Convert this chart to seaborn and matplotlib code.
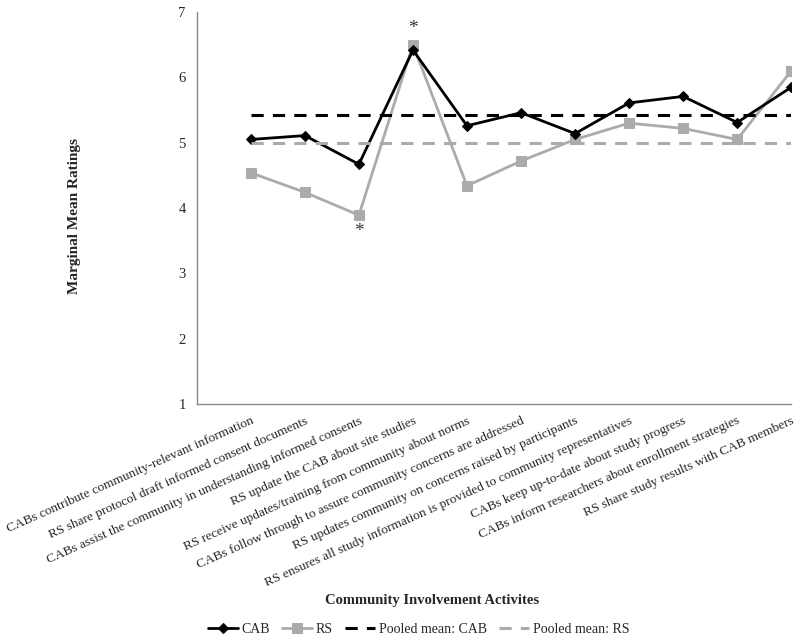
import numpy as np
import pandas as pd
import matplotlib
matplotlib.use('Agg')
import matplotlib.pyplot as plt
import seaborn as sns

# data
activities = [
    'CABs contribute community-relevant information',
    'RS share protocol draft informed consent documents',
    'CABs assist the community in understanding informed consents',
    'RS update the CAB about site studies',
    'RS receive updates/training from community about norms',
    'CABs follow through to assure community concerns are addressed',
    'RS updates community on concerns raised by participants',
    'RS ensures all study information is provided to community representatives',
    'CABs keep up-to-date about study progress',
    'CABs inform researchers about enrollment strategies',
    'RS share study results with CAB members',
]
cab = [5.05, 5.11, 4.67, 6.42, 5.26, 5.46, 5.14, 5.61, 5.71, 5.31, 5.85]
rs = [4.54, 4.24, 3.89, 6.50, 4.34, 4.72, 5.05, 5.30, 5.22, 5.05, 6.10]
pooled_cab = 5.42
pooled_rs = 4.99

sns.set_style('white')
plt.rcParams['font.family'] = ['Liberation Serif', 'DejaVu Serif']

pos = np.arange(1, len(activities) + 1)
df = pd.DataFrame({'pos': pos, 'CAB': cab, 'RS': rs,
                   'pool_cab': np.full(len(pos), pooled_cab),
                   'pool_rs': np.full(len(pos), pooled_rs)})

fig = plt.figure(figsize=(8, 6.42), dpi=100)
ax = fig.add_axes([0.246, 0.371, 0.743, 0.610])

grey = '#ABABAB'
sns.lineplot(data=df, x='pos', y='RS', ax=ax, color=grey, lw=2,
             marker='s', markersize=7, markeredgecolor=grey, label='RS')
sns.lineplot(data=df, x='pos', y='CAB', ax=ax, color='black', lw=2,
             marker='D', markersize=5, markeredgecolor='black', label='CAB')
sns.lineplot(data=df, x='pos', y='pool_cab', ax=ax, color='black', lw=2.2,
             linestyle=(0, (4, 3)), label='Pooled mean: CAB')
sns.lineplot(data=df, x='pos', y='pool_rs', ax=ax, color=grey, lw=2.2,
             linestyle=(0, (4, 3)), label='Pooled mean: RS')

# asterisks (significant differences)
ax.text(pos[3], max(cab[3], rs[3]) + 0.25, '*', ha='center', va='center',
        fontsize=14, color='#333333')
ax.text(pos[2], min(cab[2], rs[2]) - 0.25, '*', ha='center', va='center',
        fontsize=14, color='#333333')

ax.set_xlim(0, len(activities))
ax.set_ylim(1, 7)
ax.set_yticks(range(1, 8))
ax.set_xticks(pos)
ax.set_xticklabels(activities, rotation=24, ha='right', va='top',
                   rotation_mode='anchor', fontsize=9.6)
ax.tick_params(axis='x', length=5, color='#888888', pad=3, direction='out')
ax.tick_params(axis='y', length=0, pad=8, labelsize=10.5)
for s in ['top', 'right']:
    ax.spines[s].set_visible(False)
for s in ['left', 'bottom']:
    ax.spines[s].set_color('#888888')
    ax.spines[s].set_linewidth(1)

ax.set_xlabel('')
ax.set_ylabel('Marginal Mean Ratings', fontsize=11, fontweight='bold')
ax.yaxis.set_label_coords(-0.195, 0.48)
fig.text(0.54, 0.065, 'Community Involvement Activites', ha='center', va='center',
         fontsize=10.5, fontweight='bold')

handles, labels = ax.get_legend_handles_labels()
order = [labels.index(l) for l in ['CAB', 'RS', 'Pooled mean: CAB', 'Pooled mean: RS']]
ax.legend_.remove()
fig.legend([handles[i] for i in order], [labels[i] for i in order],
           loc='center', bbox_to_anchor=(0.523, 0.02), ncol=4, frameon=False,
           fontsize=10, handlelength=2.2, columnspacing=0.85, handletextpad=0.25)

plt.savefig('out.png', dpi=100)
